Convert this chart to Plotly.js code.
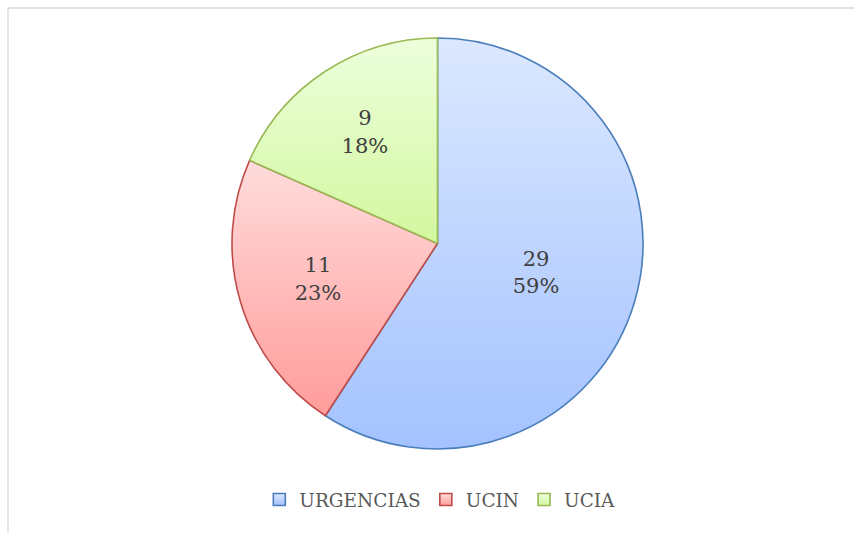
<!DOCTYPE html>
<html>
<head>
<meta charset="utf-8">
<script src="https://cdn.plot.ly/plotly-3.0.1.min.js"></script>
<style>
html,body{margin:0;padding:0;background:#fff;}
#chart{width:854px;height:533px;}
</style>
</head>
<body>
<div id="chart"></div>
<script>
// Data
const categories = ['URGENCIAS', 'UCIN', 'UCIA'];
const values = [29, 11, 9];
const pctLabels = ['59%', '23%', '18%'];

const fillColors = ['#c2d7ff', '#ffbdbd', '#e1fbbf'];
const lineColors = ['#4a7ebb', '#be4b48', '#98b954'];
const gradTop = ['#dce8ff', '#ffdcdc', '#ecffdc'];
const gradBottom = ['#a3c2ff', '#ff9c9a', '#d3f79f'];

const W = 854, H = 533;
const cx = 437.5, cy = 243.5, R = 205.5;

const trace = {
  type: 'pie',
  labels: categories,
  values: values,
  text: pctLabels,
  texttemplate: '%{value}<br>%{text}',
  textposition: 'inside',
  insidetextorientation: 'horizontal',
  sort: false,
  direction: 'clockwise',
  rotation: 0,
  marker: {colors: fillColors, line: {color: lineColors, width: 1.6}},
  textfont: {family: 'DejaVu Serif', size: 21, color: '#404040'},
  domain: {x: [(cx - R) / W, (cx + R) / W], y: [(H - cy - R) / H, (H - cy + R) / H]},
  hoverinfo: 'none'
};

const layout = {
  width: W, height: H,
  margin: {l: 0, r: 0, t: 0, b: 0},
  paper_bgcolor: '#ffffff',
  showlegend: true,
  legend: {
    orientation: 'h', x: 0.515, xanchor: 'center', y: (H - 500) / H, yanchor: 'middle',
    font: {family: 'DejaVu Serif', size: 18.5, color: '#595959'},
    itemwidth: 30, traceorder: 'normal'
  },
  shapes: [{
    type: 'rect', xref: 'paper', yref: 'paper',
    x0: 8 / W, x1: 1.05, y0: -0.05, y1: (H - 8) / H,
    line: {color: '#d9d9d9', width: 1.3}, fillcolor: 'rgba(0,0,0,0)', layer: 'below'
  }]
};

Plotly.newPlot('chart', [trace], layout, {displayModeBar: false, staticPlot: true}).then(function (gd) {
  const svg = gd.querySelector('svg.main-svg');
  const ns = 'http://www.w3.org/2000/svg';
  let defs = svg.querySelector('defs');
  if (!defs) { defs = document.createElementNS(ns, 'defs'); svg.insertBefore(defs, svg.firstChild); }
  categories.forEach(function (c, i) {
    const g = document.createElementNS(ns, 'linearGradient');
    g.setAttribute('id', 'sliceGrad' + i);
    g.setAttribute('x1', '0'); g.setAttribute('y1', '0');
    g.setAttribute('x2', '0'); g.setAttribute('y2', '1');
    const s1 = document.createElementNS(ns, 'stop');
    s1.setAttribute('offset', '0'); s1.setAttribute('stop-color', gradTop[i]);
    const s2 = document.createElementNS(ns, 'stop');
    s2.setAttribute('offset', '1'); s2.setAttribute('stop-color', gradBottom[i]);
    g.appendChild(s1); g.appendChild(s2);
    defs.appendChild(g);
  });
  const slices = gd.querySelectorAll('g.slice path.surface');
  slices.forEach(function (p, i) { p.style.fill = 'url(#sliceGrad' + i + ')'; });
  const legendPts = gd.querySelectorAll('g.legend g.traces path.legendpie');
  legendPts.forEach(function (p, i) { p.style.fill = 'url(#sliceGrad' + i + ')'; });
});
</script>
</body>
</html>
